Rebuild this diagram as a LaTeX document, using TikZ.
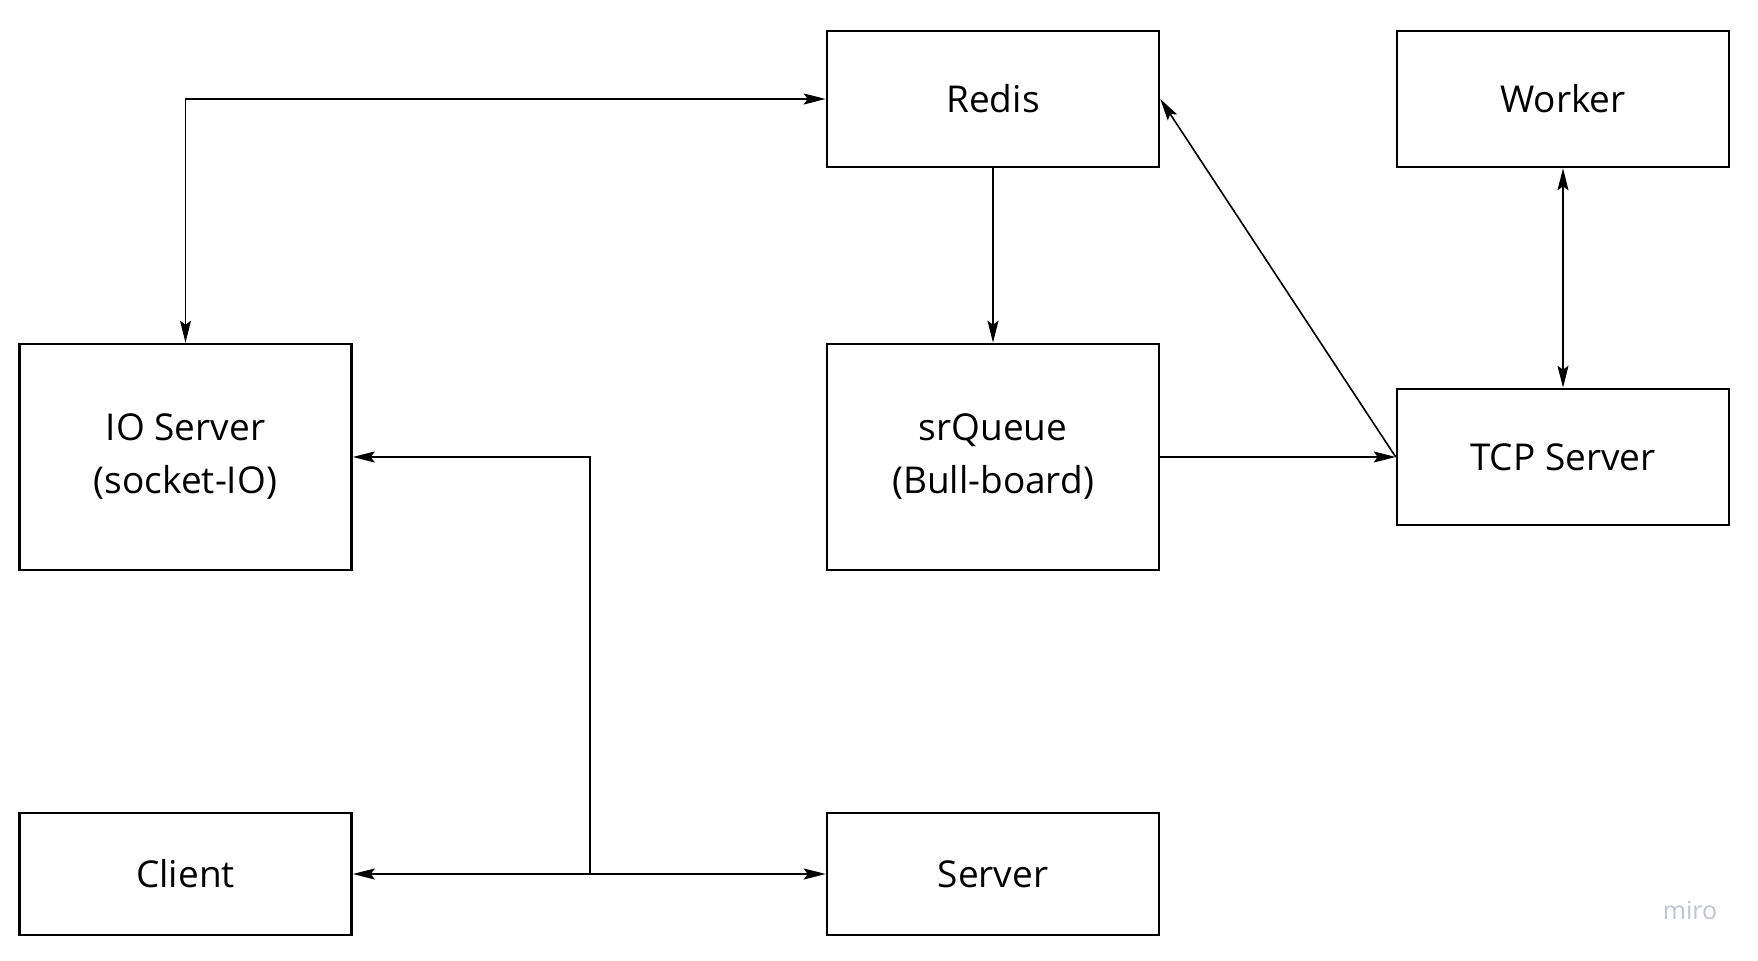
\documentclass[tikz,border=0pt]{standalone}
\usepackage{fontspec}
\setmainfont{Open Sans}
\usetikzlibrary{arrows.meta,positioning}
\definecolor{mirogray}{RGB}{192,194,204}

\begin{document}
\begin{tikzpicture}[x=0.5pt,y=-0.5pt,>={Stealth[length=11pt,width=5.5pt,inset=2pt]},
					line width=0.8pt,
					box/.style={draw,line width=1.3pt,align=center,inner sep=0pt,
						minimum width=166pt,minimum height=68pt,
						font=\fontsize{18.5}{26.5}\selectfont},
					tall box/.style={box,minimum height=113pt},
					low box/.style={box,minimum height=61pt}]

					\useasboundingbox (0,0) rectangle (1758,961);

					\node[box] (redis) at (993,99) {Redis};
					\node[box] (worker) at (1563,99) {Worker};
					\node[tall box] (io) at (185.5,457) {IO Server\\(socket-IO)};
					\node[tall box] (queue) at (993,457) {srQueue\\(Bull-board)};
					\node[box] (tcp) at (1563,457) {TCP Server};
					\node[low box] (client) at (185.5,874) {Client};
					\node[low box] (server) at (993,874) {Server};

					\node[text=mirogray,font=\fontsize{12.5}{14}\selectfont] (miro) at (1690,910) {miro};

					\coordinate (split) at (590,874);

					\draw[<->] (redis.west) -| (io.north);
					\draw[->] (redis.south) -- (queue.north);
					\draw[->] (queue.east) -- (tcp.west);
					\draw[->] (tcp.west) -- (redis.east);
					\draw[<->] (worker.south) -- (tcp.north);
					\draw[<->] (client.east) -- (server.west);
					\draw[->] (split) |- (io.east);

\end{tikzpicture}
\end{document}
